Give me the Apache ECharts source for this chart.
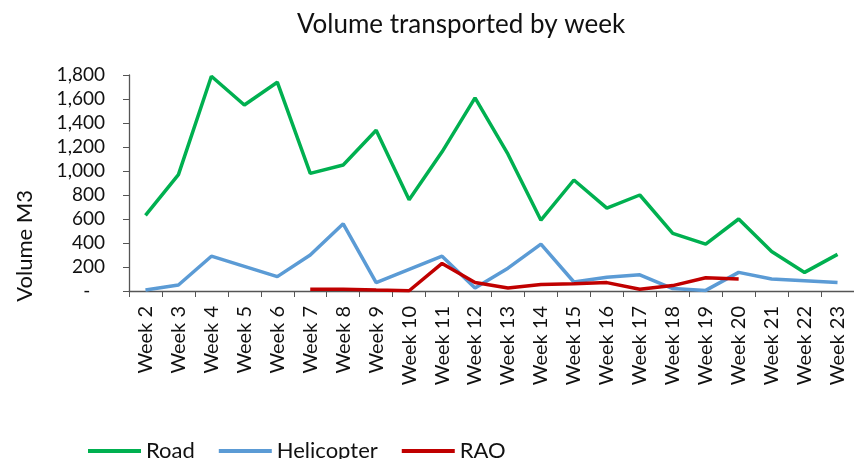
<!DOCTYPE html>
<html>
<head>
<meta charset="utf-8">
<script src="https://cdn.jsdelivr.net/npm/echarts@6/dist/echarts.min.js"></script>
<style>html,body{margin:0;padding:0;background:#fff}#c{width:854px;height:459px}</style>
</head>
<body>
<div id="c"></div>
<script>
var weeks = ['Week 2','Week 3','Week 4','Week 5','Week 6','Week 7','Week 8','Week 9','Week 10','Week 11','Week 12','Week 13','Week 14','Week 15','Week 16','Week 17','Week 18','Week 19','Week 20','Week 21','Week 22','Week 23'];
var road = [630, 970, 1790, 1550, 1740, 980, 1050, 1340, 760, 1160, 1610, 1140, 590, 925, 690, 800, 480, 390, 600, 330, 155, 305];
var helicopter = [8, 50, 290, 205, 120, 300, 560, 70, 180, 290, 25, 190, 390, 75, 115, 135, 20, 5, 155, 100, 85, 70];
var rao = [null, null, null, null, null, 15, 15, 8, 2, 230, 70, 25, 55, 60, 70, 15, 45, 110, 100, null, null, null];
var yTicks = {min: 0, max: 1800, interval: 200};

var FONT = 'Lato';
var chart = echarts.init(document.getElementById('c'), null, {renderer: 'canvas'});
function fmt(v) {
  if (v === 0) return '-   ';
  return v.toString().replace(/\B(?=(\d{3})+(?!\d))/g, ',');
}
function line(name, data, color) {
  return {
    name: name, type: 'line', data: data, symbol: 'none', connectNulls: false,
    lineStyle: {color: color, width: 3.5}, itemStyle: {color: color}, animation: false
  };
}
chart.setOption({
  animation: false,
  textStyle: {fontFamily: FONT},
  title: {
    text: 'Volume transported by week', left: 456, top: 7, textAlign: 'center',
    textStyle: {fontFamily: FONT, fontSize: 26, fontWeight: 'normal', color: '#111'}
  },
  grid: {left: 129, right: -4, top: 75, bottom: 168, containLabel: false},
  legend: {
    left: 83, top: 435, icon: 'rect', itemWidth: 53, itemHeight: 4, itemGap: 24,
    textStyle: {fontFamily: FONT, fontSize: 22, color: '#111', padding: [0, 0, 0, 0]},
    data: ['Road', 'Helicopter', 'RAO']
  },
  xAxis: {
    type: 'category', data: weeks, boundaryGap: true,
    axisLine: {lineStyle: {color: '#555', width: 1.3}},
    axisTick: {show: true, length: 6, lineStyle: {color: '#555'}},
    axisLabel: {rotate: 90, margin: 15, fontFamily: FONT, fontSize: 20, color: '#111', interval: 0}
  },
  yAxis: {
    type: 'value', min: yTicks.min, max: yTicks.max, interval: yTicks.interval,
    splitLine: {show: false},
    axisLine: {show: true, lineStyle: {color: '#555', width: 1.3}},
    axisTick: {show: true, length: 6, lineStyle: {color: '#555'}},
    axisLabel: {margin: 24, fontFamily: FONT, fontSize: 19, color: '#111', formatter: fmt}
  },
  graphic: [{
    type: 'text', left: 14, top: 190, rotation: Math.PI / 2,
    style: {text: 'Volume M3', font: '22px ' + FONT, fill: '#111'}
  }],
  series: [
    line('Road', road, '#00B050'),
    line('Helicopter', helicopter, '#5B9BD5'),
    line('RAO', rao, '#C00000')
  ]
});
</script>
</body>
</html>
